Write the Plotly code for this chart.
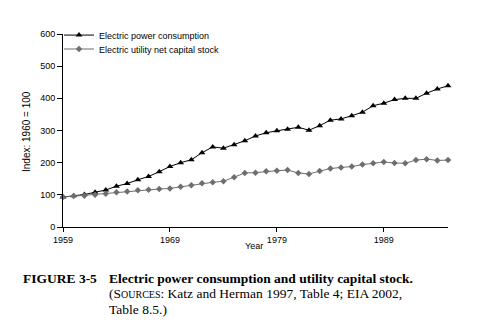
import plotly.graph_objects as go

years = list(range(1959, 1996))
consumption = [93, 97, 101, 108, 115, 127, 135, 147, 157, 172,
               188, 200, 209, 231, 249, 245, 256, 268, 283, 293,
               299, 304, 310, 301, 315, 332, 336, 346, 357, 377,
               385, 396, 400, 400, 416, 429, 439]
capital = [93, 96, 97, 100, 103, 108, 110, 114, 116, 118,
           120, 125, 130, 136, 139, 142, 155, 168, 169, 173,
           175, 177, 168, 165, 174, 182, 185, 188, 194, 198,
           202, 199, 198, 208, 211, 207, 208]
x_ticks = [1959, 1969, 1979, 1989]
y_ticks = [0, 100, 200, 300, 400, 500, 600]

SANS = "Liberation Sans, Arial, sans-serif"
SERIF = "Liberation Serif, Times New Roman, serif"

fig = go.Figure()
fig.add_trace(go.Scatter(
    x=years, y=consumption, mode="lines+markers",
    name="Electric power consumption",
    line=dict(color="#000000", width=1),
    marker=dict(symbol="triangle-up", size=6, color="#000000"),
    cliponaxis=False, legend="legend"))
fig.add_trace(go.Scatter(
    x=years, y=capital, mode="lines+markers",
    name="Electric utility net capital stock",
    line=dict(color="#6e6e6e", width=1),
    marker=dict(symbol="diamond", size=5, color="#6e6e6e"),
    cliponaxis=False, legend="legend2"))

L, R, T, B = 63, 448, 33.5, 227.5
W, H = R - L, B - T

def px(x):
    return (x - L) / W

def py(y):
    return (B - y) / H

leg_common = dict(xanchor="left", yanchor="top", bgcolor="rgba(0,0,0,0)",
                  font=dict(size=9, family=SANS), itemwidth=30,
                  tracegroupgap=0)

fig.update_layout(
    width=493, height=329,
    margin=dict(l=L, r=493 - R, t=T, b=329 - B),
    paper_bgcolor="white", plot_bgcolor="white",
    font=dict(family=SANS, size=9, color="#000000"),
    showlegend=True,
    legend=dict(x=px(59), y=py(20), **leg_common),
    legend2=dict(x=px(59), y=py(34), **leg_common),
    xaxis=dict(range=[1959, 1995], tickvals=x_ticks, ticks="outside",
               ticklen=4, tickcolor="#000", showline=True, linecolor="#000",
               linewidth=1, showgrid=False, zeroline=False,
               tickfont=dict(size=9, family=SANS)),
    yaxis=dict(range=[0, 600], tickvals=y_ticks, ticks="outside",
               ticklen=5, tickcolor="#000", showline=True, linecolor="#000",
               linewidth=1, showgrid=False, zeroline=False,
               tickfont=dict(size=9, family=SANS)),
)

CAP = 13.5
ann = [
    dict(x=px(254), y=py(247), text="Year", xanchor="center", yanchor="middle",
         font=dict(size=9, family=SANS)),
    dict(x=px(27), y=py(132), text="Index: 1960 = 100", textangle=-90,
         xanchor="center", yanchor="middle", font=dict(size=10, family=SANS)),
    dict(x=px(21), y=py(279), text="<b>FIGURE 3-5</b>", xanchor="left",
         yanchor="middle", font=dict(size=CAP, family=SERIF)),
    dict(x=px(107), y=py(279),
         text="<b>Electric power consumption and utility capital stock.</b>",
         xanchor="left", yanchor="middle", font=dict(size=CAP, family=SERIF)),
    dict(x=px(107), y=py(294),
         text="(S<span style='font-size:10px'>OURCES</span>: Katz and Herman 1997, Table 4; EIA 2002,",
         xanchor="left", yanchor="middle", font=dict(size=CAP, family=SERIF)),
    dict(x=px(107), y=py(310), text="Table 8.5.)", xanchor="left",
         yanchor="middle", font=dict(size=CAP, family=SERIF)),
]
for a in ann:
    a.update(xref="paper", yref="paper", showarrow=False)
    fig.add_annotation(**a)

fig.write_html("out.html")
